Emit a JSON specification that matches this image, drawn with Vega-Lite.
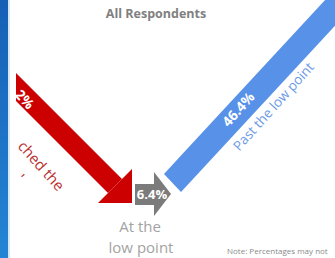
{
  "$schema": "https://vega.github.io/schema/vega-lite/v6.json",
  "width": 335,
  "height": 258,
  "autosize": {"type": "fit", "contains": "padding"},
  "padding": 0,
  "background": "white",
  "config": {"view": {"stroke": null}, "text": {"font": "Open Sans"}},
  "datasets": {
    "shapes": [
      {"shape": "redBand", "x": 16, "y": 73, "y2": 101},
      {"shape": "redBand", "x": 108, "y": 165, "y2": 193},
      {"shape": "redBand", "x": 122, "y": 179, "y2": 179},
      {"shape": "redHead", "x": 98, "y": 203, "y2": 203},
      {"shape": "redHead", "x": 132, "y": 169, "y2": 203},
      {"shape": "grayHead", "x": 154, "y": 172, "y2": 216},
      {"shape": "grayHead", "x": 171, "y": 194, "y2": 194},
      {"shape": "blueBand", "x": 164, "y": 174, "y2": 174},
      {"shape": "blueBand", "x": 181, "y": 155.6, "y2": 192},
      {"shape": "blueBand", "x": 345, "y": -21.5, "y2": 14.9}
    ],
    "boxes": [
      {"box": "strip", "x": 0, "x2": 8, "y": 0, "y2": 258},
      {"box": "stripEdge", "x": 8, "x2": 10, "y": 0, "y2": 258},
      {"box": "grayBody", "x": 135, "x2": 154.5, "y": 184, "y2": 205}
    ],
    "labels": [
      {"key": "title", "label": "All Respondents", "x": 156, "y": 14},
      {"key": "red", "label": "2%", "x": 24, "y": 100},
      {"key": "redText", "label": "ched the", "x": 41, "y": 166},
      {"key": "redFrag", "label": "'", "x": 20, "y": 178},
      {"key": "gray", "label": "6.4%", "x": 152, "y": 195},
      {"key": "blue", "label": "46.4%", "x": 239, "y": 110},
      {"key": "blueText", "label": "Past the low point", "x": 274, "y": 107},
      {"key": "at", "label": "At the", "x": 140, "y": 227},
      {"key": "at", "label": "low point", "x": 141, "y": 248},
      {"key": "note", "label": "Note: Percentages may not", "x": 227, "y": 252}
    ]
  },
  "layer": [
    {
      "data": {"name": "boxes"},
      "transform": [{"filter": "datum.box === 'strip'"}],
      "mark": {"type": "rect", "clip": true, "color": {"gradient": "linear", "x1": 0, "y1": 0, "x2": 0, "y2": 1, "stops": [{"offset": 0, "color": "#1660b6"}, {"offset": 1, "color": "#2585d4"}]}},
      "encoding": {
        "x": {"field": "x", "type": "quantitative", "scale": {"domain": [0, 335], "nice": false, "zero": false}, "axis": null},
        "x2": {"field": "x2"},
        "y": {"field": "y", "type": "quantitative", "scale": {"domain": [0, 258], "nice": false, "zero": false, "reverse": true}, "axis": null},
        "y2": {"field": "y2"}
      }
    },
    {
      "data": {"name": "boxes"},
      "transform": [{"filter": "datum.box === 'stripEdge'"}],
      "mark": {"type": "rect", "clip": true, "color": "#d6e7f6"},
      "encoding": {
        "x": {"field": "x", "type": "quantitative", "axis": null},
        "x2": {"field": "x2"},
        "y": {"field": "y", "type": "quantitative", "axis": null},
        "y2": {"field": "y2"}
      }
    },
    {
      "data": {"name": "shapes"},
      "transform": [{"filter": "datum.shape === 'redBand'"}],
      "mark": {"type": "area", "clip": true, "color": "#cc0000", "interpolate": "linear"},
      "encoding": {
        "x": {"field": "x", "type": "quantitative", "axis": null},
        "y": {"field": "y", "type": "quantitative", "axis": null, "stack": null},
        "y2": {"field": "y2"}
      }
    },
    {
      "data": {"name": "shapes"},
      "transform": [{"filter": "datum.shape === 'redHead'"}],
      "mark": {"type": "area", "clip": true, "color": "#cc0000", "interpolate": "linear"},
      "encoding": {
        "x": {"field": "x", "type": "quantitative", "axis": null},
        "y": {"field": "y", "type": "quantitative", "axis": null, "stack": null},
        "y2": {"field": "y2"}
      }
    },
    {
      "data": {"name": "boxes"},
      "transform": [{"filter": "datum.box === 'grayBody'"}],
      "mark": {"type": "rect", "clip": true, "color": "#7b7b7b"},
      "encoding": {
        "x": {"field": "x", "type": "quantitative", "axis": null},
        "x2": {"field": "x2"},
        "y": {"field": "y", "type": "quantitative", "axis": null},
        "y2": {"field": "y2"}
      }
    },
    {
      "data": {"name": "shapes"},
      "transform": [{"filter": "datum.shape === 'grayHead'"}],
      "mark": {"type": "area", "clip": true, "color": "#7b7b7b", "interpolate": "linear"},
      "encoding": {
        "x": {"field": "x", "type": "quantitative", "axis": null},
        "y": {"field": "y", "type": "quantitative", "axis": null, "stack": null},
        "y2": {"field": "y2"}
      }
    },
    {
      "data": {"name": "shapes"},
      "transform": [{"filter": "datum.shape === 'blueBand'"}],
      "mark": {"type": "area", "clip": true, "color": "#5891e8", "interpolate": "linear"},
      "encoding": {
        "x": {"field": "x", "type": "quantitative", "axis": null},
        "y": {"field": "y", "type": "quantitative", "axis": null, "stack": null},
        "y2": {"field": "y2"}
      }
    },
    {
      "data": {"name": "labels"},
      "transform": [{"filter": "datum.key === 'title'"}],
      "mark": {"type": "text", "fontSize": 12.5, "fontWeight": "bold", "color": "#808080", "align": "center", "baseline": "middle"},
      "encoding": {
        "x": {"field": "x", "type": "quantitative", "axis": null},
        "y": {"field": "y", "type": "quantitative", "axis": null},
        "text": {"field": "label"}
      }
    },
    {
      "data": {"name": "labels"},
      "transform": [{"filter": "datum.key === 'red'"}],
      "mark": {"type": "text", "fontSize": 14, "fontWeight": "bold", "color": "white", "align": "center", "baseline": "middle", "angle": 47},
      "encoding": {
        "x": {"field": "x", "type": "quantitative", "axis": null},
        "y": {"field": "y", "type": "quantitative", "axis": null},
        "text": {"field": "label"}
      }
    },
    {
      "data": {"name": "labels"},
      "transform": [{"filter": "datum.key === 'redText' || datum.key === 'redFrag'"}],
      "mark": {"type": "text", "fontSize": 15, "color": "#b83232", "align": "center", "baseline": "middle", "angle": 48},
      "encoding": {
        "x": {"field": "x", "type": "quantitative", "axis": null},
        "y": {"field": "y", "type": "quantitative", "axis": null},
        "text": {"field": "label"}
      }
    },
    {
      "data": {"name": "labels"},
      "transform": [{"filter": "datum.key === 'gray'"}],
      "mark": {"type": "text", "fontSize": 13, "fontWeight": "bold", "color": "white", "align": "center", "baseline": "middle"},
      "encoding": {
        "x": {"field": "x", "type": "quantitative", "axis": null},
        "y": {"field": "y", "type": "quantitative", "axis": null},
        "text": {"field": "label"}
      }
    },
    {
      "data": {"name": "labels"},
      "transform": [{"filter": "datum.key === 'blue'"}],
      "mark": {"type": "text", "fontSize": 14, "fontWeight": "bold", "color": "white", "align": "center", "baseline": "middle", "angle": -48},
      "encoding": {
        "x": {"field": "x", "type": "quantitative", "axis": null},
        "y": {"field": "y", "type": "quantitative", "axis": null},
        "text": {"field": "label"}
      }
    },
    {
      "data": {"name": "labels"},
      "transform": [{"filter": "datum.key === 'blueText'"}],
      "mark": {"type": "text", "fontSize": 13.5, "color": "#6b9ae6", "align": "center", "baseline": "middle", "angle": -48},
      "encoding": {
        "x": {"field": "x", "type": "quantitative", "axis": null},
        "y": {"field": "y", "type": "quantitative", "axis": null},
        "text": {"field": "label"}
      }
    },
    {
      "data": {"name": "labels"},
      "transform": [{"filter": "datum.key === 'at'"}],
      "mark": {"type": "text", "fontSize": 15, "color": "#a3a3a3", "align": "center", "baseline": "middle"},
      "encoding": {
        "x": {"field": "x", "type": "quantitative", "axis": null},
        "y": {"field": "y", "type": "quantitative", "axis": null},
        "text": {"field": "label"}
      }
    },
    {
      "data": {"name": "labels"},
      "transform": [{"filter": "datum.key === 'note'"}],
      "mark": {"type": "text", "fontSize": 8, "color": "#8a8a8a", "align": "left", "baseline": "middle"},
      "encoding": {
        "x": {"field": "x", "type": "quantitative", "axis": null},
        "y": {"field": "y", "type": "quantitative", "axis": null},
        "text": {"field": "label"}
      }
    }
  ]
}
